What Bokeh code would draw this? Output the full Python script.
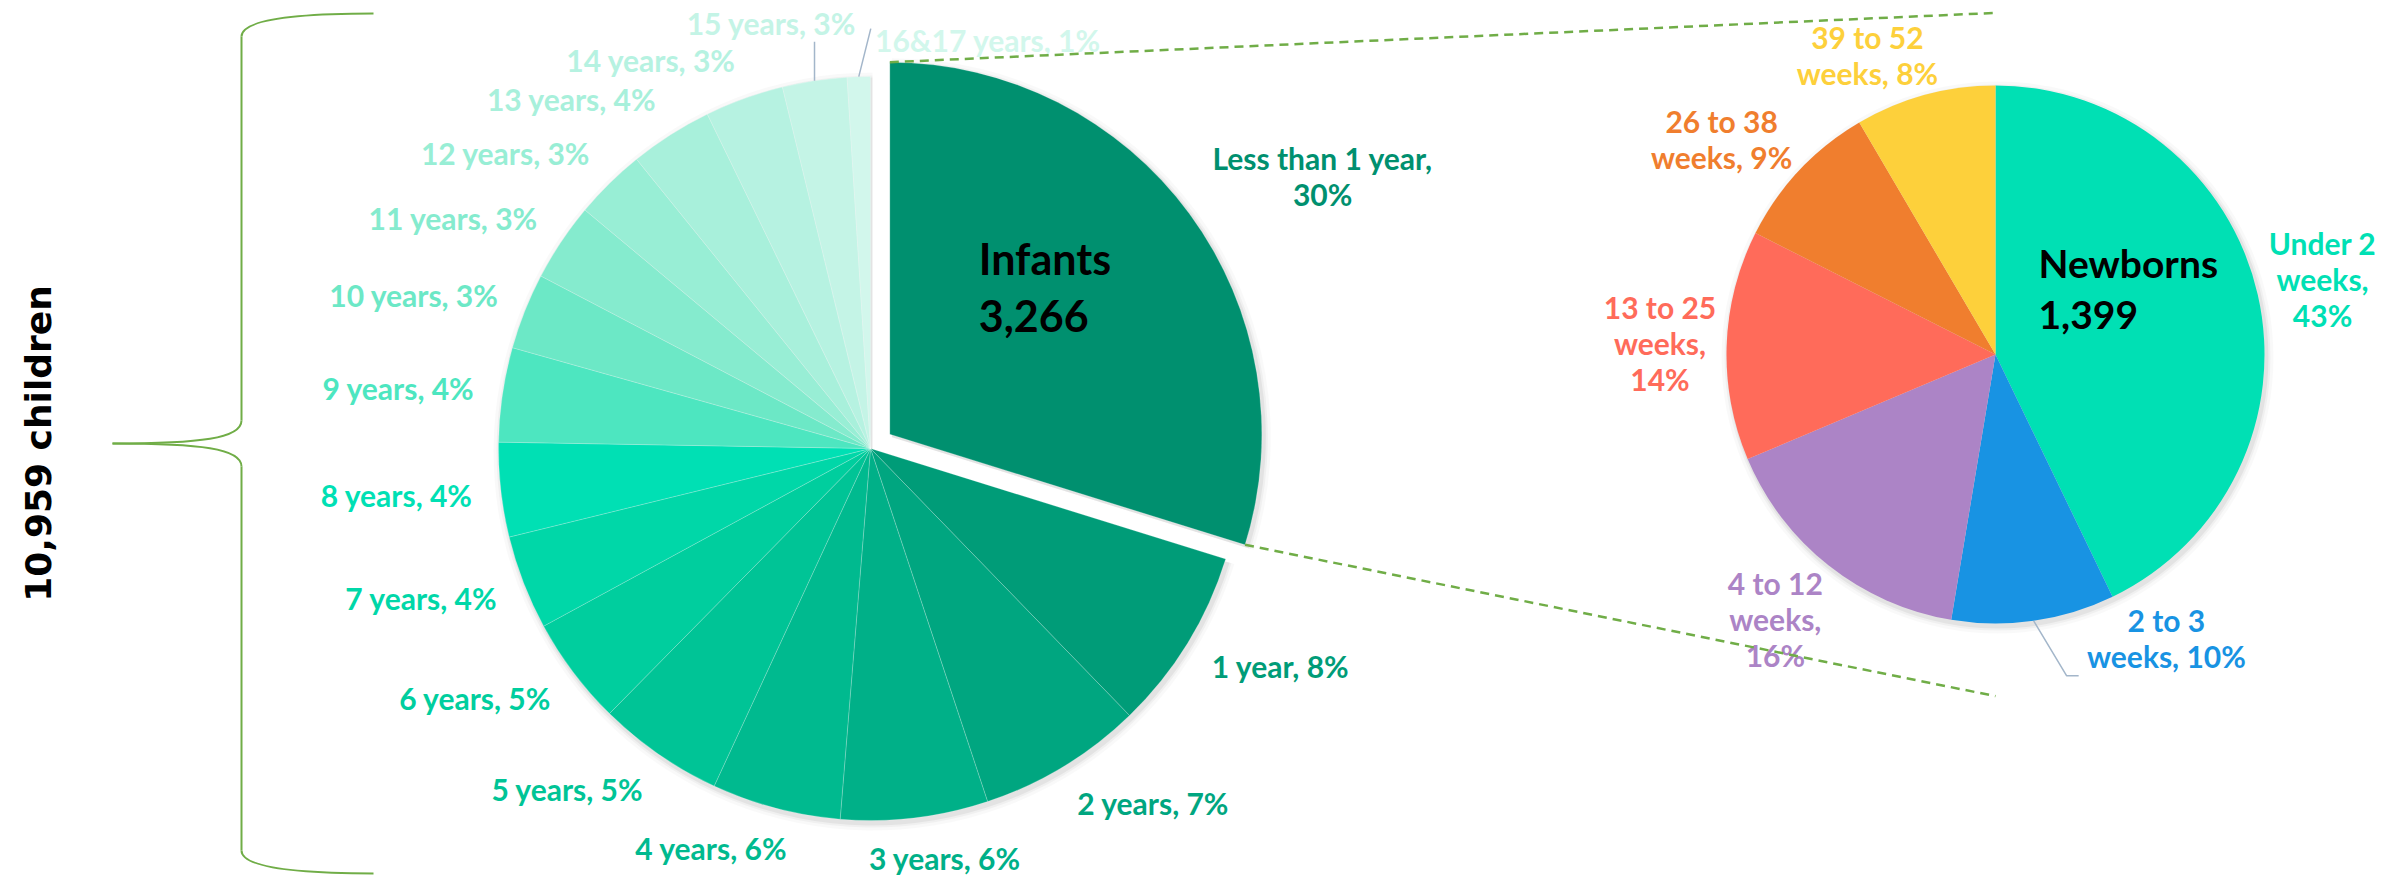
import numpy as np
from bokeh.plotting import figure
from bokeh.models import Range1d
from bokeh.core.properties import value
from bokeh.embed import file_html
from bokeh.resources import INLINE

# ---------------- data ----------------
age_groups = ["Less than 1 year", "1 year", "2 years", "3 years", "4 years", "5 years",
              "6 years", "7 years", "8 years", "9 years", "10 years", "11 years",
              "12 years", "13 years", "14 years", "15 years", "16&17 years"]
age_counts = [3266, 870, 785, 701, 614, 600, 515, 449, 449, 449, 362, 373, 340, 394, 375, 307, 110]
age_colors = ["#00906F", "#009C78", "#00A680", "#00B088", "#00BA8F", "#00C496", "#00CE9E",
              "#00D7A8", "#00E0B4", "#4DE6C0", "#6CE8C6", "#85EBCE", "#98EED5", "#A8F0DB",
              "#B6F2E1", "#C4F4E6", "#D2F7EC"]

infant_groups = ["Under 2 weeks", "2 to 3 weeks", "4 to 12 weeks", "13 to 25 weeks",
                 "26 to 38 weeks", "39 to 52 weeks"]
infant_counts = [1399, 320, 523, 451, 297, 276]
infant_colors = ["#00E0B4", "#1893E3", "#AC84C6", "#FF6B5A", "#F07E2E", "#FDD03B"]
infant_three_line = [True, False, True, True, False, False]

# ---------------- layout helpers ----------------
W_PX, H = 2392, 875
def Y(ref_y):
    return H - ref_y

LBL_FONT = "Lato"
LBL_SIZE = 30
LINE_H = 36
CAP = 21
GREEN = "#70AD47"
LEADER = "#A3B6CA"

LW = {" ": 193, "%": 780, "&": 720, ",": 220, "L": 490, "I": 290, "N": 740, "U": 710,
      "a": 515, "b": 570, "c": 470, "d": 570, "e": 530, "f": 350, "h": 570, "i": 260,
      "k": 540, "l": 260, "n": 570, "o": 570, "r": 390, "s": 440, "t": 370, "w": 790, "y": 530}

def text_w(s, size):
    return max(sum(LW.get(ch, 580) for ch in line) for line in s.split("\n")) / 1000 * size

def box_h(s):
    return CAP + (len(s.split("\n")) - 1) * LINE_H

def angles(counts):
    c = np.array(counts, float)
    frac = c / c.sum()
    cum = np.concatenate([[0.0], np.cumsum(frac)]) * 360.0
    return frac, cum[:-1], cum[1:]

def place(cx, cy, rl, theta, s):
    """cx, cy in data coords; theta clockwise from 12 o'clock (deg). Returns label centre."""
    t = np.radians(theta)
    sn, cs = np.sin(t), np.cos(t)
    ax, ay = cx + rl * sn, cy + rl * cs
    w, h = text_w(s, LBL_SIZE), box_h(s)
    a = np.clip(0.5 - 1.5 * sn, 0, 1)
    b = np.clip(0.5 + 0.6 * cs, 0, 1)
    left = ax - a * w
    top = ay + b * h
    return left + w / 2, top - h / 2

def polar(cx, cy, r, theta):
    t = np.radians(theta)
    return cx + r * np.sin(t), cy + r * np.cos(t)

p = figure(width=W_PX, height=H, x_range=Range1d(0, W_PX), y_range=Range1d(0, H),
           output_backend="svg", toolbar_location=None, min_border=0,
           x_axis_type=None, y_axis_type=None)
p.grid.visible = False
p.outline_line_color = None
p.background_fill_color = "white"

# ---------------- left pie (ages) ----------------
cx1, cy1, r1 = 870.0, Y(448), 372.0
frac1, a0, a1 = angles(age_counts)
mid1 = (a0 + a1) / 2
explode = 24.0
ecx, ecy = polar(cx1, cy1, explode, mid1[0])

for k, al in [(7, 0.025), (4, 0.035), (2, 0.05)]:
    p.wedge(x=cx1 + 2, y=cy1 - 3, radius=r1 + k, start_angle=np.radians(90 - 360),
            end_angle=np.radians(90 - a1[0]), fill_color="black", fill_alpha=al, line_color=None)
    p.wedge(x=ecx + 2, y=ecy - 3, radius=r1 + k, start_angle=np.radians(90 - a1[0]),
            end_angle=np.radians(90 - a0[0]), fill_color="black", fill_alpha=al, line_color=None)

xs = [ecx] + [cx1] * (len(age_counts) - 1)
ys = [ecy] + [cy1] * (len(age_counts) - 1)
p.wedge(x=xs, y=ys, radius=r1, start_angle=np.radians(90 - a1), end_angle=np.radians(90 - a0),
        fill_color=age_colors, line_color="white", line_width=0.6, line_alpha=0.35)

pct1 = [int(round(v)) for v in frac1 * 100]
lab1 = []
for i, g in enumerate(age_groups):
    lab1.append(f"{g},\n{pct1[i]}%" if i == 0 else f"{g}, {pct1[i]}%")

lx, ly = [], []
for i, s in enumerate(lab1):
    if i == 0:
        x, y = place(ecx, ecy, r1 + 30, mid1[i], s)
    elif age_groups[i] == "15 years":
        ex, ey = polar(cx1, cy1, r1, mid1[i])
        tx, ty = ex, ey + 39
        p.line([ex, tx], [ey, ty], line_color=LEADER, line_width=1.5)
        w = text_w(s, LBL_SIZE)
        x, y = tx - 0.76 * w + w / 2, ty + 8 + CAP / 2
    elif age_groups[i] == "16&17 years":
        ex, ey = polar(cx1, cy1, r1, mid1[i])
        tx, ty = ex + 12, ey + 48
        p.line([ex, tx], [ey, ty], line_color=LEADER, line_width=1.5)
        w = text_w(s, LBL_SIZE)
        x, y = tx + 6 + w / 2, ty - 11
    else:
        x, y = place(cx1, cy1, r1 + 30, mid1[i], s)
    lx.append(x)
    ly.append(y)

p.text(x=lx, y=ly, text=lab1, text_color=age_colors, text_align="center", text_baseline="middle",
       text_font=value(LBL_FONT), text_font_style="bold", text_font_size=f"{LBL_SIZE}px",
       text_line_height=1.0)

p.text(x=[ecx + 89, ecx + 89], y=[ecy + 176, ecy + 118],
       text=["Infants", f"{age_counts[0]:,}"], text_color="black", text_align="left",
       text_baseline="middle", text_font=value(LBL_FONT), text_font_style="bold",
       text_font_size="43px")

# ---------------- right pie (infants) ----------------
cx2, cy2, r2 = 1995.0, Y(354), 269.0
frac2, b0, b1 = angles(infant_counts)
mid2 = (b0 + b1) / 2

for k, al in [(7, 0.025), (4, 0.035), (2, 0.05)]:
    p.wedge(x=cx2 + 2, y=cy2 - 3, radius=r2 + k, start_angle=0, end_angle=2 * np.pi,
            fill_color="black", fill_alpha=al, line_color=None)
p.wedge(x=cx2, y=cy2, radius=r2, start_angle=np.radians(90 - b1), end_angle=np.radians(90 - b0),
        fill_color=infant_colors, line_color=None)

pct2 = [int(round(v)) for v in frac2 * 100]
lab2 = []
for i, g in enumerate(infant_groups):
    head = g.replace(" weeks", "")
    lab2.append(f"{head}\nweeks,\n{pct2[i]}%" if infant_three_line[i] else f"{head}\nweeks, {pct2[i]}%")

rx, ry = [], []
for i, s in enumerate(lab2):
    if infant_groups[i] == "2 to 3 weeks":
        ex, ey = polar(cx2, cy2, r2, mid2[i])
        tx, ty = ex + 33, ey - 55
        p.line([ex, tx, tx + 12], [ey, ty, ty], line_color=LEADER, line_width=1.5)
        w = text_w(s, LBL_SIZE)
        x, y = tx + 22 + w / 2, ty + 38
    else:
        x, y = place(cx2, cy2, r2 + 12, mid2[i], s)
    rx.append(x)
    ry.append(y)

p.text(x=rx, y=ry, text=lab2, text_color=infant_colors, text_align="center", text_baseline="middle",
       text_font=value(LBL_FONT), text_font_style="bold", text_font_size=f"{LBL_SIZE}px",
       text_line_height=1.0)

p.text(x=[cx2 + 43, cx2 + 43], y=[cy2 + 92, cy2 + 40],
       text=["Newborns", f"{infant_counts[0]:,}"], text_color="black", text_align="left",
       text_baseline="middle", text_font=value(LBL_FONT), text_font_style="bold",
       text_font_size="39px")

# ---------------- connector lines ----------------
tx0, ty0 = polar(ecx, ecy, r1, a0[0])
bx0, by0 = polar(ecx, ecy, r1, a1[0])
p.line([tx0, cx2], [ty0, cy2 + 1.27 * r2], line_color=GREEN, line_width=2.5, line_dash="9 6")
p.line([bx0, cx2], [by0, cy2 - 1.27 * r2], line_color=GREEN, line_width=2.5, line_dash="9 6")

# ---------------- brace ----------------
bx, tipx, endx = 241, 112, 373
p.bezier(x0=[endx, bx, tipx, bx], y0=[Y(13), Y(420), Y(443), Y(850)],
         x1=[bx, tipx, bx, endx], y1=[Y(36), Y(443), Y(466), Y(873)],
         cx0=[290, bx, 200, bx], cy0=[Y(13), Y(438), Y(443), Y(866)],
         cx1=[bx, 200, bx, 290], cy1=[Y(20), Y(443), Y(448), Y(873)],
         line_color=GREEN, line_width=2)
p.segment(x0=[bx, bx], y0=[Y(36), Y(466)], x1=[bx, bx], y1=[Y(420), Y(850)],
          line_color=GREEN, line_width=2)

p.text(x=[38], y=[Y(443)], text=[f"{sum(age_counts):,} children"], angle=np.pi / 2,
       text_align="center", text_baseline="middle", text_color="black",
       text_font=value("DejaVu Sans"), text_font_style="bold", text_font_size="36px")

open("out.html", "w").write(file_html(p, INLINE))
